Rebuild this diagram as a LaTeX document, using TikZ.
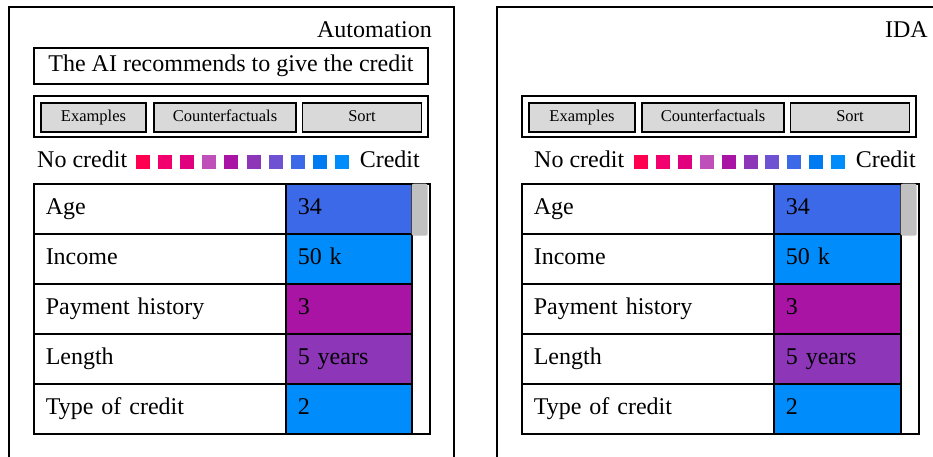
\documentclass[tikz,border=0pt]{standalone}
\usepackage{fontspec}
\setmainfont{Liberation Serif}
\usetikzlibrary{positioning}

\definecolor{c1}{RGB}{255,0,80}
\definecolor{c2}{RGB}{242,0,110}
\definecolor{c3}{RGB}{225,0,125}
\definecolor{c4}{RGB}{192,80,185}
\definecolor{c5}{RGB}{170,20,165}
\definecolor{c6}{RGB}{142,54,184}
\definecolor{c7}{RGB}{110,82,210}
\definecolor{c8}{RGB}{60,105,232}
\definecolor{c9}{RGB}{0,122,240}
\definecolor{c10}{RGB}{0,140,250}
\definecolor{btngray}{RGB}{217,217,217}
\definecolor{thumbgray}{RGB}{192,192,192}

\begin{document}
\begin{tikzpicture}[x=1pt, y=-1pt,
  every node/.style={inner sep=0pt, font=\fontsize{24}{28}\selectfont},
  frame/.style={line width=1.5pt},
  msgbox/.style={draw, line width=1.5pt, minimum width=394pt, minimum height=36pt, text height=16pt, text depth=5pt},
  btnbar/.style={draw, line width=1.5pt, minimum width=394pt, minimum height=41pt},
  btn/.style={draw, line width=1.5pt, fill=btngray, minimum height=29pt, font=\fontsize{16.5}{19}\selectfont, text height=11pt, text depth=3.5pt},
  swatch/.style={minimum size=14pt},
  namecell/.style={draw, line width=1.5pt, anchor=north west, text width=228pt, inner xsep=12pt, minimum height=50pt, align=left, text height=16pt, text depth=5pt},
  valcell/.style={namecell, text width=102pt},
  scroll/.style={draw, line width=1.5pt, anchor=north west, minimum width=18pt, minimum height=250pt},
  thumb/.style={fill=thumbgray, rounded corners=2pt, anchor=north west, minimum width=16pt, minimum height=52pt}]

\useasboundingbox (0,0) rectangle (933,456);

% Automation
\draw[frame] (9,470) -- (9,7) -- (454,7) -- (454,470);
\node[anchor=base east] (atitle) at (432,37) {Automation};
\node[msgbox] (advice) at (231,66) {The AI recommends to give the credit};

\node[btnbar] (abar) at (231,116.5) {};
\node[btn, minimum width=105pt] (aex) at (93.5,117.5) {Examples};
\node[btn, minimum width=142pt] (acf) at (225,117.5) {Counterfactuals};
\node[btn, minimum width=119pt] (asort) at (362,117.5) {Sort};

\node[anchor=base west] (anocredit) at (37,167) {No credit};
\foreach \i in {1,...,10}
  \node[swatch, fill=c\i] (asw\i) at ({143+22.1*(\i-1)},162) {};
\node[anchor=base east] (acredit) at (420,167) {Credit};

\foreach \lbl/\val/\col [count=\r] in {Age/34/c8, Income/50 k/c10, Payment history/3/c5, Length/5 years/c6, Type of credit/2/c10} {
  \node[namecell] (aname\r) at (33,{183+50*(\r-1)}) {\lbl};
  \node[valcell, fill=\col] (aval\r) at (285,{183+50*(\r-1)}) {\val};
}
\node[scroll] (ascroll) at (411,183) {};
\node[thumb] (athumb) at (411.5,183.5) {};

% IDA
\draw[frame] (497,470) -- (497,7) -- (950,7);
\node[anchor=base east] (ititle) at (928,37) {IDA};

\node[btnbar] (ibar) at (719,116.5) {};
\node[btn, minimum width=106pt] (iex) at (582,117.5) {Examples};
\node[btn, minimum width=142pt] (icf) at (713,117.5) {Counterfactuals};
\node[btn, minimum width=119pt] (isort) at (850,117.5) {Sort};

\node[anchor=base west] (inocredit) at (534,167) {No credit};
\foreach \i in {1,...,10}
  \node[swatch, fill=c\i] (isw\i) at ({641+21.9*(\i-1)},162) {};
\node[anchor=base east] (icredit) at (916,167) {Credit};

\foreach \lbl/\val/\col [count=\r] in {Age/34/c8, Income/50 k/c10, Payment history/3/c5, Length/5 years/c6, Type of credit/2/c10} {
  \node[namecell] (iname\r) at (521,{183+50*(\r-1)}) {\lbl};
  \node[valcell, fill=\col, text width=103pt] (ival\r) at (773,{183+50*(\r-1)}) {\val};
}
\node[scroll] (iscroll) at (900,183) {};
\node[thumb] (ithumb) at (900.5,183.5) {};

\end{tikzpicture}
\end{document}
